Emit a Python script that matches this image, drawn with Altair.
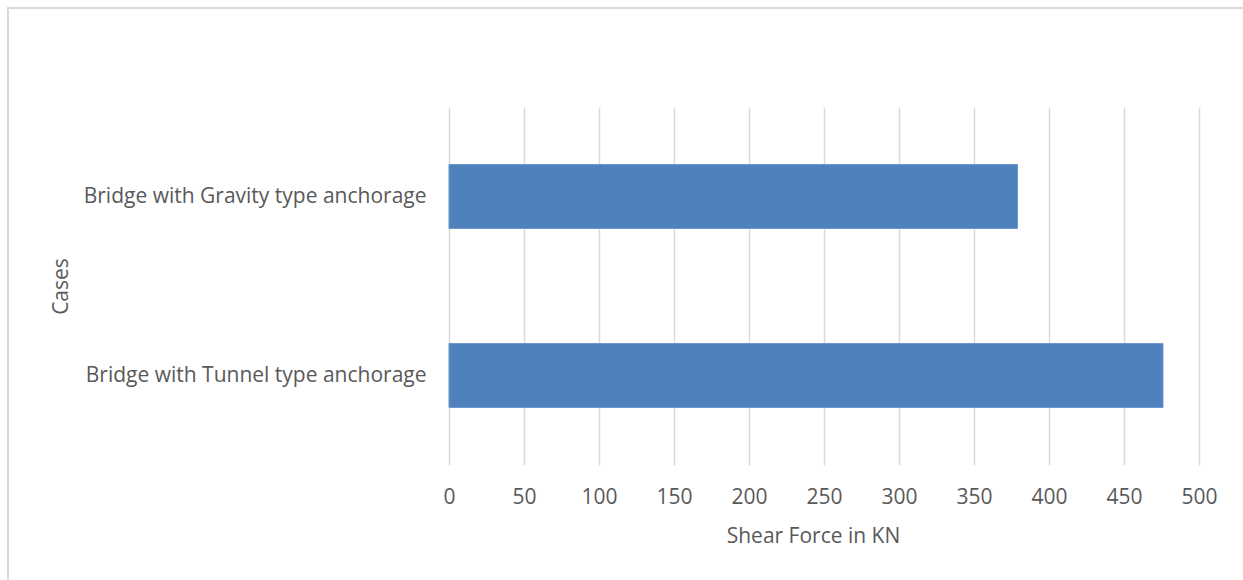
import altair as alt
import pandas as pd

cases = ["Bridge with Gravity type anchorage", "Bridge with Tunnel type anchorage"]
shear = [379, 476]
x_ticks = [0, 50, 100, 150, 200, 250, 300, 350, 400, 450, 500]

df = pd.DataFrame({"Cases": cases, "Shear": shear})

FONT = "Open Sans"
GREY = "#595959"

bars = alt.Chart(df).mark_bar(color="#4F81BD", stroke="#6F98CC", strokeWidth=1, size=64).encode(
    x=alt.X("Shear:Q",
            scale=alt.Scale(domain=[0, 500], nice=False),
            axis=alt.Axis(values=x_ticks, title="Shear Force in KN", grid=True,
                          gridColor="#D9D9D9", gridWidth=1.5, domain=False, ticks=False,
                          labelFlush=False, labelOverlap=False,
                          labelFont=FONT, labelFontSize=21, labelColor=GREY, labelPadding=21,
                          titleFont=FONT, titleFontSize=21, titleColor=GREY,
                          titleFontWeight="normal", titlePadding=18, titleX=364)),
    y=alt.Y("Cases:N", sort=cases,
            scale=alt.Scale(paddingInner=0, paddingOuter=0),
            axis=alt.Axis(title="Cases", domain=False, ticks=False, grid=False,
                          labelFont=FONT, labelFontSize=21, labelColor=GREY, labelPadding=23,
                          labelLimit=500,
                          titleFont=FONT, titleFontSize=21, titleColor=GREY,
                          titleFontWeight="normal", titleX=-382, titleBaseline="alphabetic")),
)

frame_left = alt.Chart(df).mark_rule(color="#D9D9D9", strokeWidth=2).encode(
    x=alt.value(-441), y=alt.value(-100), y2=alt.value(480))
frame_top = alt.Chart(df).mark_rule(color="#D9D9D9", strokeWidth=2).encode(
    x=alt.value(-441), x2=alt.value(800), y=alt.value(-99))

chart = alt.layer(frame_left, frame_top, bars).properties(
    width=750, height=358,
    autosize=alt.AutoSizeParams(type="none"),
    padding={"left": 449, "top": 107, "right": 44, "bottom": 115},
    background="white",
).configure_view(stroke=None)

chart.save("out.html", embed_options={"renderer": "svg", "actions": False})
